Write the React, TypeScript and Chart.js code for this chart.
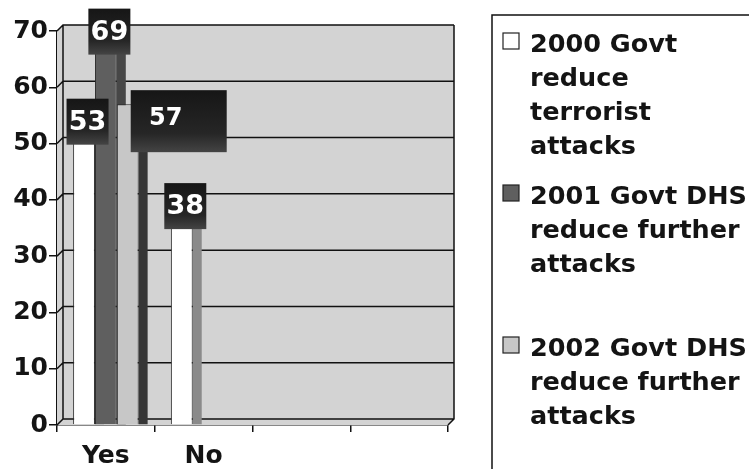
import { useEffect, useRef } from "react";
import { Chart, registerables } from "chart.js";

Chart.register(...registerables);

// Categories along the x axis (two answered, two empty slots)
const categories = ["Yes", "No", "", ""];

// Survey results per year (percent)
const values2000 = [53, 38, null, null];
const values2001 = [69, null, null, null];
const values2002 = [57, null, null, null];

// Legend text, one entry per series, already broken into lines
const legend2000 = ["2000 Govt", "reduce", "terrorist", "attacks"];
const legend2001 = ["2001 Govt DHS", "reduce further", "attacks"];
const legend2002 = ["2002 Govt DHS", "reduce further", "attacks"];

// Y axis range and step
const yMin = 0;
const yMax = 70;
const yStep = 10;

const FONT = "'DejaVu Sans', 'Liberation Sans', Arial, sans-serif";
const WALL = "#d3d3d3";
const LINE = "#111";
const DEPTH = 6; // depth of the pseudo-3D walls in pixels
const SERIES_FILL = ["#ffffff", "#5f5f5f", "#c7c7c7"];
const SERIES_SIDE = ["#8a8a8a", "#474747", "#363636"];

type BoxStyle = { w: number; h: number; dx: number; dy: number; tdx: number; tdy: number; size: number };
const DEFAULT_BOX: BoxStyle = { w: 42, h: 46, dx: 3.5, dy: -5, tdx: 0, tdy: 0, size: 27 };
const BOX_BY_DATASET: Record<number, BoxStyle> = {
  2: { w: 96, h: 62, dx: 51, dy: 17, tdx: -13, tdy: -3, size: 24 },
};

const wallPlugin = {
  id: "wall",
  beforeDatasetsDraw(chart: any) {
    const { ctx, chartArea: a } = chart;
    const y = chart.scales.y;
    const L = a.left, R = a.right, T = a.top, B = a.bottom, d = DEPTH;
    ctx.save();
    // side wall, back wall and floor
    ctx.fillStyle = WALL;
    ctx.beginPath();
    ctx.moveTo(L, B);
    ctx.lineTo(L, T);
    ctx.lineTo(L + d, T - d);
    ctx.lineTo(R + d, T - d);
    ctx.lineTo(R + d, B - d);
    ctx.lineTo(R, B);
    ctx.closePath();
    ctx.fill();

    ctx.strokeStyle = LINE;
    ctx.lineWidth = 1.5;
    ctx.beginPath();
    // gridlines run across the side wall and along the back wall
    for (let v = yMin; v <= yMax; v += yStep) {
      const py = y.getPixelForValue(v);
      ctx.moveTo(L, py);
      ctx.lineTo(L + d, py - d);
      ctx.lineTo(R + d, py - d);
    }
    ctx.moveTo(L + d, T - d);
    ctx.lineTo(L + d, B - d);
    ctx.moveTo(R + d, T - d);
    ctx.lineTo(R + d, B - d);
    ctx.lineTo(R, B);
    ctx.stroke();

    // side faces of the columns, partly hidden by the neighbouring column
    chart.data.datasets.forEach((_: any, di: number) => {
      const meta = chart.getDatasetMeta(di);
      meta.data.forEach((bar: any, i: number) => {
        const v = chart.data.datasets[di].data[i];
        if (v == null) return;
        const p = bar.getProps(["x", "y", "base", "width"], true);
        const right = p.x + p.width / 2;
        ctx.fillStyle = SERIES_SIDE[di];
        ctx.fillRect(right, p.y, 9, p.base - p.y);
      });
    });
    ctx.restore();
  },
  afterDatasetsDraw(chart: any) {
    const { ctx } = chart;
    ctx.save();
    chart.data.datasets.forEach((ds: any, di: number) => {
      const meta = chart.getDatasetMeta(di);
      const st = BOX_BY_DATASET[di] || DEFAULT_BOX;
      meta.data.forEach((bar: any, i: number) => {
        const v = ds.data[i];
        if (v == null) return;
        const p = bar.getProps(["x", "y"], true);
        const cx = p.x + st.dx;
        const cy = p.y + st.dy;
        const x0 = cx - st.w / 2;
        const y0 = cy - st.h / 2;
        const g = ctx.createLinearGradient(0, y0, 0, y0 + st.h);
        g.addColorStop(0, "#161616");
        g.addColorStop(0.7, "#262626");
        g.addColorStop(1, "#444444");
        ctx.fillStyle = g;
        ctx.fillRect(x0, y0, st.w, st.h);
        ctx.fillStyle = "#ffffff";
        ctx.font = `bold ${st.size}px ${FONT}`;
        ctx.textAlign = "center";
        ctx.textBaseline = "middle";
        ctx.fillText(String(v), cx + st.tdx, cy + st.tdy + 1);
      });
    });
    ctx.restore();
  },
  afterDraw(chart: any) {
    const { ctx, width, height } = chart;
    const left = 492;
    const top = 15;
    ctx.save();
    ctx.fillStyle = "#ffffff";
    ctx.fillRect(left, top, width - left, height - top);
    ctx.strokeStyle = LINE;
    ctx.lineWidth = 1.5;
    ctx.beginPath();
    ctx.moveTo(left, height);
    ctx.lineTo(left, top);
    ctx.lineTo(width, top);
    ctx.stroke();

    const entries = [legend2000, legend2001, legend2002];
    const firstBaselines = [52, 204, 356];
    const lineH = 34;
    ctx.font = `bold 25.5px ${FONT}`;
    ctx.textAlign = "left";
    ctx.textBaseline = "alphabetic";
    entries.forEach((lines, k) => {
      const b = firstBaselines[k];
      ctx.fillStyle = SERIES_FILL[k];
      ctx.fillRect(503, b - 19, 16, 16);
      ctx.strokeStyle = "#222";
      ctx.lineWidth = 1.2;
      ctx.strokeRect(503, b - 19, 16, 16);
      ctx.fillStyle = "#141414";
      lines.forEach((t, j) => ctx.fillText(t, 530, b + j * lineH));
    });
    ctx.restore();
  },
};

export default function App() {
  const ref = useRef<HTMLCanvasElement | null>(null);

  useEffect(() => {
    if (!ref.current) return;
    const series = [values2000, values2001, values2002];
    const names = [legend2000, legend2001, legend2002].map((l) => l.join(" "));
    const chart = new Chart(ref.current, {
      type: "bar",
      data: {
        labels: categories,
        datasets: series.map((d, k) => ({
          label: names[k],
          data: d,
          backgroundColor: SERIES_FILL[k],
          borderColor: "#2a2a2a",
          borderWidth: 1,
          categoryPercentage: 0.67,
          barPercentage: 1,
        })),
      },
      options: {
        responsive: false,
        animation: false,
        events: [],
        layout: { padding: { left: 0, top: 31, right: 301, bottom: 0 } },
        plugins: {
          legend: { display: false },
          tooltip: { enabled: false },
          title: { display: false },
        },
        scales: {
          x: {
            offset: true,
            grid: {
              offset: true,
              drawOnChartArea: false,
              drawTicks: true,
              tickLength: 7,
              color: LINE,
              lineWidth: 1.5,
            },
            border: { display: true, color: LINE, width: 1.5 },
            ticks: {
              color: "#141414",
              padding: 9,
              font: { family: FONT, weight: "bold", size: 25 },
            },
            afterFit: (s: any) => {
              s.height = 44;
            },
          },
          y: {
            min: yMin,
            max: yMax,
            ticks: {
              stepSize: yStep,
              color: "#141414",
              padding: 1,
              font: { family: FONT, weight: "bold", size: 25 },
            },
            grid: {
              color: LINE,
              lineWidth: 1.5,
              drawOnChartArea: false,
              drawTicks: true,
              tickLength: 8,
            },
            border: { display: true, color: LINE, width: 1.5 },
            afterFit: (s: any) => {
              s.width = 57;
            },
          },
        },
      },
      plugins: [wallPlugin],
    });
    return () => chart.destroy();
  }, []);

  return (
    <div style={{ position: "absolute", left: 0, top: 0, width: 749, height: 469, background: "#fff" }}>
      <canvas ref={ref} width={749} height={469} style={{ display: "block" }} />
    </div>
  );
}
